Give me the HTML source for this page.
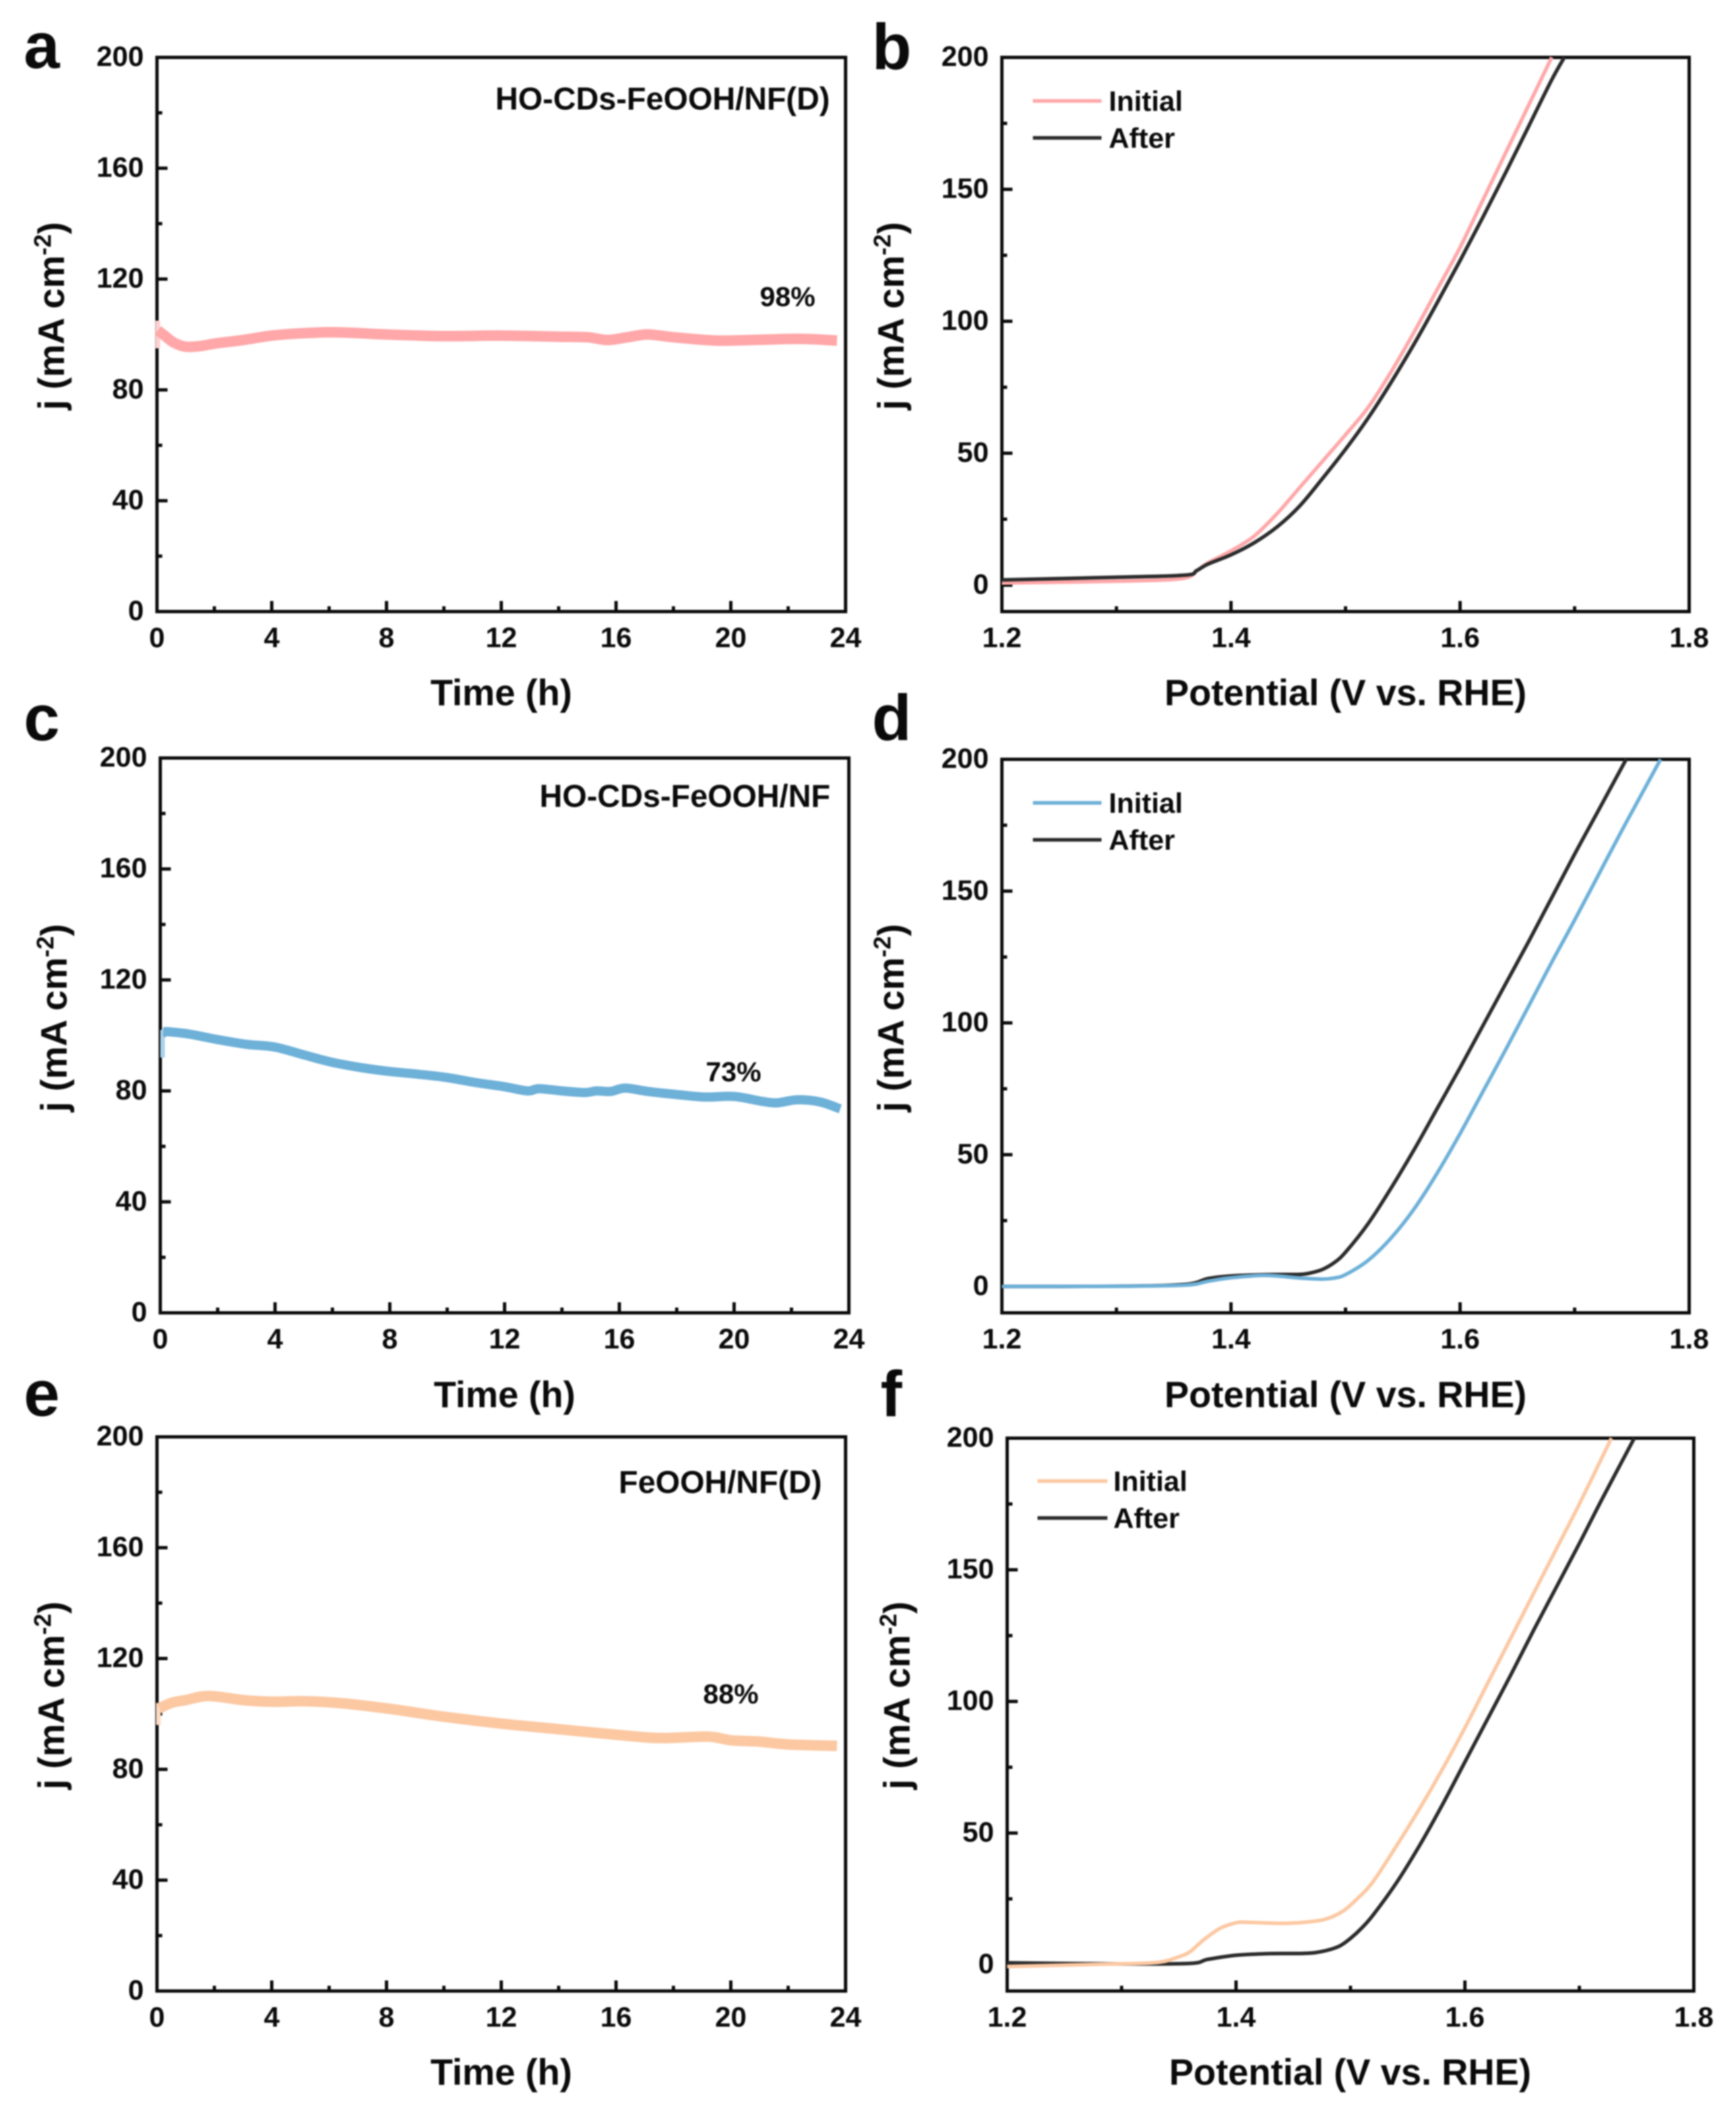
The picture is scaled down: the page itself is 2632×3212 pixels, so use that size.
<!DOCTYPE html>
<html lang="en">
<head>
<meta charset="utf-8">
<title>Stability and LSV panels</title>
<style>
html,body{margin:0;padding:0;background:#fff;width:2632px;height:3212px;overflow:hidden}
svg{display:block;filter:blur(1px)}
text{font-family:"Liberation Sans",Arial,sans-serif;font-weight:700;fill:#0a0a0a}
</style>
</head>
<body>
<svg id="figure" xmlns="http://www.w3.org/2000/svg" width="2632" height="3212" viewBox="0 0 2632 3212"></svg>
<script>
// ---- chart data ----
const timeTicks = [0, 4, 8, 12, 16, 20, 24];
const timeMinorTicks = [2, 6, 10, 14, 18, 22];
const timeCurrentTicks = [0, 40, 80, 120, 160, 200];
const timeCurrentMinorTicks = [20, 60, 100, 140, 180];
const potentialTicks = ['1.2', '1.4', '1.6', '1.8'];
const potentialMinorTicks = [1.3, 1.5, 1.7];
const lsvCurrentTicks = [0, 50, 100, 150, 200];
const lsvCurrentMinorTicks = [25, 75, 125, 175];

const aHours = [0.03, 0.15, 0.3, 0.6, 1, 1.5, 2, 3, 4, 5, 6, 7, 8, 10, 12, 14, 15, 15.7, 16.4, 17.1, 18, 19.5, 21, 22.5, 23.7];
const aCurrent = [101.5, 100.5, 99.3, 97, 95.6, 95.8, 96.7, 98, 99.6, 100.4, 100.8, 100.5, 100, 99.4, 99.6, 99.2, 99, 98, 99, 100, 99, 97.8, 98.1, 98.4, 97.8];
const aSpikeHours = [0.03, 0.03];
const aSpikeCurrent = [95, 105];

const cHours = [0.1, 0.3, 1, 2, 3, 4, 5, 6, 7, 8, 9, 10, 11, 12, 12.8, 13.2, 14, 14.8, 15.2, 15.7, 16.2, 17, 18, 19, 20, 21, 21.5, 22.2, 23, 23.7];
const cCurrent = [101.3, 101.3, 100.5, 98.5, 96.8, 95.8, 93, 90.3, 88.4, 87, 86, 84.8, 83, 81.5, 80, 80.8, 80, 79.4, 80, 79.8, 81, 79.8, 78.7, 77.8, 78, 76.2, 75.7, 76.8, 76, 73.5];
const cSpikeHours = [0.08, 0.08];
const cSpikeCurrent = [92, 102];

const eHours = [0.08, 0.5, 1, 1.8, 3, 4, 5.2, 6.5, 8, 9, 10, 12, 14, 16, 17.5, 19.2, 20, 21, 22, 23.7];
const eCurrent = [102, 104, 105, 106.5, 105, 104.4, 104.6, 103.8, 102, 100.5, 99, 96.5, 94.5, 92.5, 91.3, 91.8, 90.5, 90, 89, 88.5];
const eSpikeHours = [0.05, 0.05];
const eSpikeCurrent = [96, 104];

const bInitialV = [1.2, 1.3, 1.357, 1.37, 1.38, 1.4, 1.42, 1.44, 1.46, 1.48, 1.5, 1.52, 1.54, 1.56, 1.58, 1.6, 1.62, 1.64, 1.66, 1.68];
const bInitialJ = [0.8, 1.5, 2.5, 5.5, 8.5, 13, 18.5, 27, 37, 47, 57, 67.5, 81, 96, 112, 128, 146, 164, 182, 200];
const bAfterV = [1.2, 1.3, 1.36, 1.37, 1.38, 1.4, 1.42, 1.44, 1.46, 1.48, 1.5, 1.52, 1.54, 1.56, 1.58, 1.6, 1.62, 1.64, 1.66, 1.68, 1.691];
const bAfterJ = [2, 3, 3.8, 5.5, 8, 11.5, 16, 22, 30, 40.5, 51.5, 63.5, 77, 91.5, 107, 123, 139.5, 156.5, 174, 191.5, 200];

const dInitialV = [1.2, 1.3, 1.36, 1.38, 1.4, 1.43, 1.46, 1.48, 1.49, 1.5, 1.52, 1.54, 1.56, 1.58, 1.6, 1.62, 1.64, 1.66, 1.68, 1.7, 1.72, 1.74, 1.76, 1.775];
const dInitialJ = [0, 0.1, 0.5, 2, 3.3, 4.2, 3.2, 2.8, 3.2, 4.5, 10, 18.5, 29.5, 43, 58, 74, 90, 106.5, 123, 139, 155.5, 172, 188, 200];
const dAfterV = [1.2, 1.3, 1.36, 1.38, 1.4, 1.43, 1.46, 1.47, 1.48, 1.49, 1.5, 1.52, 1.54, 1.56, 1.58, 1.6, 1.62, 1.64, 1.66, 1.68, 1.7, 1.72, 1.745];
const dAfterJ = [0, 0.1, 0.8, 3, 4, 4.5, 4.6, 5.2, 6.5, 9, 13, 24, 37.5, 52, 67.5, 83, 99, 115, 131, 147.5, 164, 180, 200];

const fInitialV = [1.2, 1.283, 1.33, 1.35, 1.36, 1.371, 1.386, 1.4, 1.409, 1.4425, 1.468, 1.481, 1.494, 1.507, 1.52, 1.54, 1.56, 1.58, 1.6, 1.62, 1.64, 1.66, 1.68, 1.7, 1.728];
const fInitialJ = [-0.7, 0.2, 0.8, 3, 5, 9.2, 13.8, 15.9, 16.1, 15.7, 16.5, 17.7, 20.5, 25.5, 31.7, 45, 59, 74, 90, 107, 124, 141, 158, 175, 200];
const fAfterV = [1.2, 1.3, 1.36, 1.375, 1.4, 1.43, 1.46, 1.475, 1.49, 1.5, 1.51, 1.52, 1.54, 1.56, 1.58, 1.6, 1.62, 1.64, 1.66, 1.68, 1.7, 1.72, 1.748];
const fAfterJ = [0.7, 0.3, 0.5, 2, 3.6, 4.2, 4.3, 5, 7, 10, 14, 19, 31, 45, 60.5, 77, 93.5, 110, 127, 143.5, 160, 177, 200];

// ---- drawing helpers ----
const NS = 'http://www.w3.org/2000/svg';
const root = document.getElementById('figure');
function make(parent, tag, attrs, txt) {
  const el = document.createElementNS(NS, tag);
  for (const k in attrs) el.setAttribute(k, attrs[k]);
  if (txt !== undefined) el.textContent = txt;
  parent.appendChild(el);
  return el;
}
function linear(d0, d1, r0, r1) {
  return function (v) { return r0 + (v - d0) * (r1 - r0) / (d1 - d0); };
}
function smoothPath(xs, ys, sx, sy) {
  const p = xs.map(function (x, i) { return [sx(x), sy(ys[i])]; });
  let d = 'M' + p[0][0].toFixed(1) + ' ' + p[0][1].toFixed(1);
  for (let i = 0; i < p.length - 1; i++) {
    const a = p[Math.max(0, i - 1)], b = p[i], c = p[i + 1], e = p[Math.min(p.length - 1, i + 2)];
    const c1x = b[0] + (c[0] - a[0]) / 6, c1y = b[1] + (c[1] - a[1]) / 6;
    const c2x = c[0] - (e[0] - b[0]) / 6, c2y = c[1] - (e[1] - b[1]) / 6;
    d += 'C' + c1x.toFixed(1) + ' ' + c1y.toFixed(1) + ' ' + c2x.toFixed(1) + ' ' + c2y.toFixed(1) + ' ' + c[0].toFixed(1) + ' ' + c[1].toFixed(1);
  }
  return d;
}

function drawPanel(cfg) {
  const g = make(root, 'g', {});
  
  
  const sx = linear(cfg.xDomain[0], cfg.xDomain[1], cfg.left, cfg.right);
  const sy = linear(cfg.yDomain[0], cfg.yDomain[1], cfg.bottom, cfg.top);

  const letter = make(g, 'text', { x: cfg.letter[0], y: cfg.letter[1], 'font-size': 98 }, cfg.id);
  
  

  const frame = make(g, 'rect', { x: cfg.left, y: cfg.top, width: cfg.right - cfg.left, height: cfg.bottom - cfg.top, fill: '#fff', stroke: '#0a0a0a', 'stroke-width': 5 });
  
  

  cfg.xTicks.forEach(function (t) {
    const v = Number(t);
    const tick = make(g, 'line', { x1: sx(v), x2: sx(v), y1: cfg.bottom, y2: cfg.bottom - 16, stroke: '#0a0a0a', 'stroke-width': 5 });
    
    
    const lab = make(g, 'text', { x: sx(v), y: cfg.bottom + 54, 'font-size': 43, 'text-anchor': 'middle' }, t);
    
    
  });
  cfg.xMinor.forEach(function (t) {
    const tick = make(g, 'line', { x1: sx(t), x2: sx(t), y1: cfg.bottom, y2: cfg.bottom - 8, stroke: '#0a0a0a', 'stroke-width': 5 });
    
    
  });
  cfg.yTicks.forEach(function (t) {
    const tick = make(g, 'line', { x1: cfg.left, x2: cfg.left + 16, y1: sy(t), y2: sy(t), stroke: '#0a0a0a', 'stroke-width': 5 });
    
    
    const lab = make(g, 'text', { x: cfg.left - 20, y: sy(t) + 13, 'font-size': 43, 'text-anchor': 'end' }, t);
    
    
  });
  cfg.yMinor.forEach(function (t) {
    const tick = make(g, 'line', { x1: cfg.left, x2: cfg.left + 8, y1: sy(t), y2: sy(t), stroke: '#0a0a0a', 'stroke-width': 5 });
    
    
  });

  const xt = make(g, 'text', { x: cfg.xTitle[0], y: cfg.xTitle[1], 'font-size': 55.5, 'text-anchor': 'middle' }, cfg.xLabel);
  
  

  const yt = make(g, 'text', { transform: 'translate(' + cfg.yTitle[0] + ',' + cfg.yTitle[1] + ') rotate(-90)', 'font-size': 56, 'text-anchor': 'middle' });
  
  
  make(yt, 'tspan', {}, 'j (mA cm');
  make(yt, 'tspan', { dy: -20, 'font-size': 36 }, '-2');
  make(yt, 'tspan', { dy: 20 }, ')');

  cfg.series.forEach(function (s) {
    const path = make(g, 'path', { d: smoothPath(s.x, s.y, sx, sy), fill: 'none', stroke: s.color, 'stroke-width': s.width, 'stroke-linecap': s.cap, 'stroke-linejoin': 'round' });
    
    
  });

  (cfg.notes || []).forEach(function (n) {
    const t = make(g, 'text', { x: n.x, y: n.y, 'font-size': n.size }, n.text);
    
    
  });

  if (cfg.legend) {
    cfg.legend.rows.forEach(function (r) {
      const ln = make(g, 'line', { x1: cfg.legend.x1, x2: cfg.legend.x2, y1: r.y, y2: r.y, stroke: r.color, 'stroke-width': 5.5 });
      
      
      const tx = make(g, 'text', { x: cfg.legend.tx, y: r.y + 15, 'font-size': 43 }, r.text);
      
      
    });
  }
}

const PINK = '#ffa7a9', BLUE = '#6db0d8', ORANGE = '#fcc8a2', DARK = '#2b2b2b';
const PINK_SOFT = '#ffd0d2', BLUE_SOFT = '#a9d3ec', ORANGE_SOFT = '#fddcc4';

const timeAxes = { xDomain: [0, 24], yDomain: [0, 200], xTicks: timeTicks.map(String), xMinor: timeMinorTicks, yTicks: timeCurrentTicks, yMinor: timeCurrentMinorTicks, xLabel: 'Time (h)' };
const lsvAxes = { xDomain: [1.2, 1.8], yDomain: [-10, 200], xTicks: potentialTicks, xMinor: potentialMinorTicks, yTicks: lsvCurrentTicks, yMinor: lsvCurrentMinorTicks, xLabel: 'Potential (V vs. RHE)' };

drawPanel(Object.assign({}, timeAxes, {
  id: 'a', left: 238, right: 1282, top: 87, bottom: 927, letter: [36, 103], xTitle: [760, 1069], yTitle: [97, 479],
  series: [
    { name: 'stability-spike-a', x: aSpikeHours, y: aSpikeCurrent, color: PINK_SOFT, width: 7, cap: 'butt' },
    { name: 'stability-curve-a', x: aHours, y: aCurrent, color: PINK, width: 16, cap: 'butt' }
  ],
  notes: [
    { name: 'sample-label-a', text: 'HO-CDs-FeOOH/NF(D)', x: 751, y: 166, size: 47.8 },
    { name: 'retention-label-a', text: '98%', x: 1152, y: 464, size: 42 }
  ]
}));
drawPanel(Object.assign({}, lsvAxes, {
  id: 'b', left: 1519, right: 2561, top: 87, bottom: 927, letter: [1322, 105], xTitle: [2040, 1069], yTitle: [1370, 479],
  series: [
    { name: 'lsv-initial-b', x: bInitialV, y: bInitialJ, color: PINK, width: 5.5, cap: 'butt' },
    { name: 'lsv-after-b', x: bAfterV, y: bAfterJ, color: DARK, width: 5.5, cap: 'butt' }
  ],
  legend: { x1: 1566, x2: 1670, tx: 1681, rows: [{ text: 'Initial', y: 153, color: PINK }, { text: 'After', y: 209, color: DARK }] }
}));
drawPanel(Object.assign({}, timeAxes, {
  id: 'c', left: 243, right: 1287, top: 1149, bottom: 1990, letter: [36, 1122], xTitle: [765, 2133], yTitle: [101, 1543],
  series: [
    { name: 'stability-spike-c', x: cSpikeHours, y: cSpikeCurrent, color: BLUE_SOFT, width: 7, cap: 'butt' },
    { name: 'stability-curve-c', x: cHours, y: cCurrent, color: BLUE, width: 14, cap: 'butt' }
  ],
  notes: [
    { name: 'sample-label-c', text: 'HO-CDs-FeOOH/NF', x: 818, y: 1223, size: 47.8 },
    { name: 'retention-label-c', text: '73%', x: 1070, y: 1639, size: 42 }
  ]
}));
drawPanel(Object.assign({}, lsvAxes, {
  id: 'd', left: 1519, right: 2561, top: 1151, bottom: 1990, letter: [1322, 1122], xTitle: [2040, 2133], yTitle: [1370, 1543],
  series: [
    { name: 'lsv-after-d', x: dAfterV, y: dAfterJ, color: DARK, width: 5.5, cap: 'butt' },
    { name: 'lsv-initial-d', x: dInitialV, y: dInitialJ, color: BLUE, width: 5.5, cap: 'butt' }
  ],
  legend: { x1: 1566, x2: 1670, tx: 1681, rows: [{ text: 'Initial', y: 1217, color: BLUE }, { text: 'After', y: 1273, color: DARK }] }
}));
drawPanel(Object.assign({}, timeAxes, {
  id: 'e', left: 238, right: 1282, top: 2178, bottom: 3018, letter: [36, 2146], xTitle: [760, 3160], yTitle: [97, 2570],
  series: [
    { name: 'stability-spike-e', x: eSpikeHours, y: eSpikeCurrent, color: ORANGE_SOFT, width: 7, cap: 'butt' },
    { name: 'stability-curve-e', x: eHours, y: eCurrent, color: ORANGE, width: 16, cap: 'butt' }
  ],
  notes: [
    { name: 'sample-label-e', text: 'FeOOH/NF(D)', x: 938, y: 2263, size: 47.8 },
    { name: 'retention-label-e', text: '88%', x: 1066, y: 2582, size: 42 }
  ]
}));
drawPanel(Object.assign({}, lsvAxes, {
  id: 'f', left: 1527, right: 2568, top: 2180, bottom: 3018, letter: [1335, 2147], xTitle: [2047, 3160], yTitle: [1379, 2570],
  series: [
    { name: 'lsv-after-f', x: fAfterV, y: fAfterJ, color: DARK, width: 5.5, cap: 'butt' },
    { name: 'lsv-initial-f', x: fInitialV, y: fInitialJ, color: ORANGE, width: 5.5, cap: 'butt' }
  ],
  legend: { x1: 1573, x2: 1679, tx: 1688, rows: [{ text: 'Initial', y: 2245, color: ORANGE }, { text: 'After', y: 2301, color: DARK }] }
}));
</script>
</body>
</html>
